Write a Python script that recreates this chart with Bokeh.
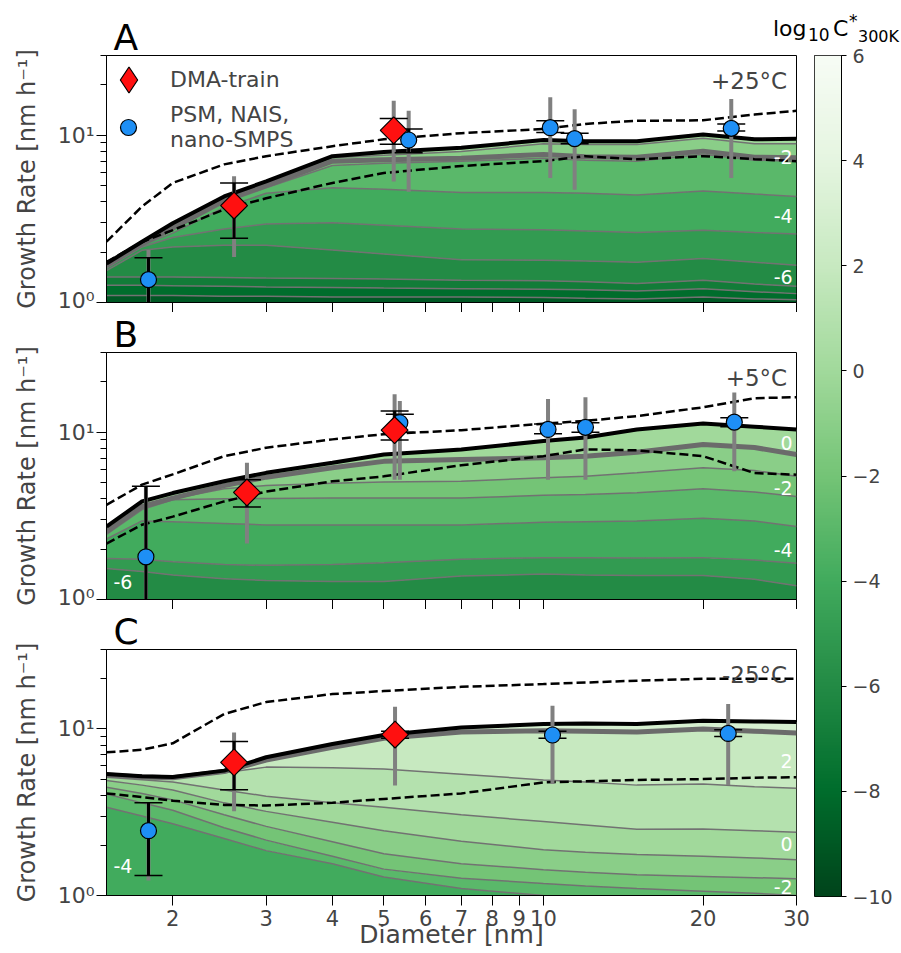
import numpy as np
from bokeh.plotting import figure
from bokeh.layouts import row, column
from bokeh.models import FixedTicker, Label, Legend, LegendItem, LinearColorMapper, Div
from bokeh.embed import file_html
from bokeh.resources import INLINE

FONT = "DejaVu Sans"

# ---------------- data ----------------
diameter = [1.5, 1.75, 2.0, 2.5, 3.0, 4.0, 5.0, 7.0, 10.0, 12.0, 15.0, 20.0, 25.0, 30.0]

# Panel A (+25 C): cumulative growth rate at the top of each volatility bin
A_levels = [-9, -8, -7, -6, -5, -4, -3, -2, -1, 0]
A_top_m9 = [1.10, 1.10, 1.10, 1.09, 1.09, 1.08, 1.08, 1.08, 1.07, 1.06, 1.05, 1.08, 1.05, 1.04]
A_top_m8 = [1.27, 1.27, 1.26, 1.25, 1.24, 1.23, 1.22, 1.21, 1.20, 1.19, 1.17, 1.21, 1.16, 1.13]
A_top_m7 = [1.42, 1.42, 1.42, 1.41, 1.40, 1.39, 1.38, 1.36, 1.35, 1.33, 1.30, 1.36, 1.29, 1.25]
A_top_m6 = [1.55, 2.05, 2.15, 2.20, 2.20, 2.06, 1.95, 1.80, 1.79, 1.77, 1.74, 1.83, 1.74, 1.67]
A_top_m5 = [1.60, 2.15, 2.45, 2.75, 2.95, 3.00, 2.90, 2.75, 2.72, 2.68, 2.62, 2.70, 2.62, 2.57]
A_top_m4 = [1.64, 2.20, 2.60, 3.70, 4.50, 4.86, 4.75, 4.55, 4.55, 4.50, 4.40, 4.65, 4.45, 4.31]
A_top_m3 = [1.66, 2.22, 2.72, 3.95, 4.85, 6.60, 6.80, 7.00, 7.30, 7.10, 7.00, 7.70, 7.10, 7.00]
A_top_m2 = [1.67, 2.24, 2.79, 4.10, 5.00, 7.00, 7.15, 7.30, 7.68, 7.44, 7.40, 8.04, 7.40, 7.34]
A_top_m1 = [1.69, 2.27, 2.90, 4.20, 5.15, 7.35, 7.60, 8.00, 8.90, 8.80, 8.80, 9.60, 8.90, 8.90]
A_top_0 = [1.71, 2.31, 2.98, 4.31, 5.30, 7.50, 7.94, 8.43, 9.37, 9.20, 9.20, 10.1, 9.46, 9.53]
A_upper = [2.31, 3.75, 5.19, 6.70, 7.50, 8.60, 9.46, 10.3, 10.9, 11.7, 12.2, 12.3, 13.3, 14.0]
A_lower = [1.75, 2.30, 2.71, 3.60, 4.20, 5.19, 5.95, 6.55, 7.00, 7.50, 7.18, 7.50, 7.20, 7.00]

A_dma_d = [2.61, 5.22]
A_dma_gr = [3.8, 10.7]
A_dma_lo = [2.42, 8.83]
A_dma_hi = [5.19, 12.6]
A_dma_glo = [1.87, 5.3]
A_dma_ghi = [5.69, 16.1]

A_psm_d = [1.80, 5.57, 10.3, 11.45, 22.6]
A_psm_gr = [1.37, 9.37, 11.1, 9.55, 11.0]
A_psm_lo = [0.5, 7.86, 10.4, 8.9, 10.6]
A_psm_hi = [1.85, 10.9, 12.2, 10.3, 11.7]
A_psm_glo = [0.5, 4.6, 5.56, 4.73, 5.56]
A_psm_ghi = [2.06, 14.0, 16.9, 14.3, 16.5]

# Panel B (+5 C)
B_levels = [-6, -5, -4, -3, -2, -1, 0]
B_top_m6 = [1.53, 1.47, 1.40, 1.33, 1.30, 1.28, 1.28, 1.38, 1.42, 1.40, 1.39, 1.39, 1.32, 1.21]
B_top_m5 = [1.76, 1.74, 1.68, 1.62, 1.60, 1.62, 1.66, 1.74, 1.78, 1.78, 1.77, 1.78, 1.72, 1.65]
B_top_m4 = [2.30, 2.95, 2.92, 2.85, 2.79, 2.79, 2.79, 2.79, 2.90, 2.92, 2.95, 3.06, 2.95, 2.73]
B_top_m3 = [2.45, 3.45, 3.95, 4.00, 4.02, 4.04, 4.04, 4.04, 4.20, 4.25, 4.35, 4.60, 4.40, 4.13]
B_top_m2 = [2.50, 3.55, 4.00, 4.60, 4.80, 4.95, 5.05, 5.09, 5.35, 5.45, 5.72, 6.13, 5.90, 5.45]
B_top_m1 = [2.54, 3.60, 4.04, 4.80, 5.39, 6.13, 6.70, 6.87, 7.05, 7.20, 7.60, 8.44, 8.10, 7.37]
B_top_0 = [2.73, 3.86, 4.33, 5.09, 5.72, 6.57, 7.37, 7.90, 8.87, 9.30, 10.4, 11.3, 10.8, 10.4]
B_upper = [3.68, 4.86, 5.60, 7.20, 8.08, 9.07, 9.73, 10.3, 11.25, 11.7, 12.5, 14.1, 16.0, 16.2]
B_lower = [2.16, 2.80, 3.13, 3.86, 4.42, 5.09, 5.45, 6.35, 7.20, 7.90, 7.80, 7.20, 5.70, 5.58]

B_dma_d = [2.76, 5.24]
B_dma_gr = [4.37, 10.3]
B_dma_lo = [3.57, 9.0]
B_dma_hi = [5.2, 13.4]
B_dma_glo = [2.16, 5.2]
B_dma_ghi = [6.57, 16.9]

B_psm_d = [1.78, 5.36, 10.2, 12.0, 22.9]
B_psm_gr = [1.80, 11.4, 10.4, 10.7, 11.5]
B_psm_lo = [0.5, 10.0, 9.8, 10.0, 10.8]
B_psm_hi = [4.75, 12.8, 11.2, 11.4, 12.2]
B_psm_glo = [0.5, 5.2, 5.2, 5.2, 5.85]
B_psm_ghi = [4.75, 15.4, 15.8, 16.2, 17.3]

# Panel C (-25 C)
C_levels = [-4, -3, -2, -1, 0, 1, 2, 3]
C_top_m4 = [3.39, 3.00, 2.70, 2.20, 1.86, 1.55, 1.29, 1.10, 1.00, 0.97, 0.95, 0.93, 0.90, 0.88]
C_top_m3 = [4.07, 3.60, 3.25, 2.55, 2.15, 1.72, 1.44, 1.27, 1.18, 1.14, 1.10, 1.06, 1.03, 1.00]
C_top_m2 = [4.46, 4.10, 3.75, 3.05, 2.60, 2.10, 1.78, 1.55, 1.43, 1.38, 1.33, 1.30, 1.28, 1.26]
C_top_m1 = [4.90, 4.60, 4.30, 3.60, 3.20, 2.75, 2.45, 2.12, 1.88, 1.82, 1.76, 1.72, 1.68, 1.64]
C_top_0 = [5.13, 4.95, 4.80, 4.30, 3.95, 3.60, 3.39, 3.05, 2.78, 2.65, 2.50, 2.51, 2.45, 2.40]
C_top_1 = [5.25, 5.10, 5.05, 5.45, 5.90, 5.85, 5.75, 5.35, 4.94, 4.80, 4.60, 4.67, 4.50, 4.40]
C_top_2 = [5.30, 5.15, 5.10, 5.55, 6.50, 7.75, 8.80, 9.60, 9.75, 9.70, 9.60, 10.0, 9.70, 9.45]
C_top_3 = [5.37, 5.20, 5.15, 5.62, 6.76, 8.13, 9.20, 10.2, 10.7, 10.8, 10.7, 11.2, 11.1, 11.0]
C_upper = [7.24, 7.50, 8.20, 12.3, 14.5, 16.2, 16.9, 17.9, 18.6, 19.0, 19.5, 20.0, 20.0, 20.0]
C_lower = [4.10, 3.90, 3.71, 3.50, 3.47, 3.60, 3.80, 4.10, 4.78, 4.85, 4.94, 5.00, 5.10, 5.13]

C_dma_d = [2.61, 5.25]
C_dma_gr = [6.3, 9.25]
C_dma_lo = [4.32, 8.8]
C_dma_hi = [8.4, 9.7]
C_dma_glo = [3.2, 4.57]
C_dma_ghi = [9.53, 13.6]

C_psm_d = [1.80, 10.4, 22.3]
C_psm_gr = [2.45, 9.2, 9.4]
C_psm_lo = [1.32, 8.8, 9.0]
C_psm_hi = [3.6, 9.7, 9.9]
C_psm_glo = [1.23, 4.67, 4.6]
C_psm_ghi = [3.6, 13.8, 14.1]

x_ticks = [2, 3, 4, 5, 6, 7, 8, 9, 10, 20, 30]
y_ticks = [1, 10]
y_minor = [2, 3, 4, 5, 6, 7, 8, 9, 20, 30]
cbar_ticks = [-10, -8, -6, -4, -2, 0, 2, 4, 6]

# ---------------- colours ----------------
GREENS = ["#f7fcf5", "#e5f5e0", "#c7e9c0", "#a1d99b", "#74c476",
          "#41ab5d", "#238b45", "#006d2c", "#00441b"]


def greens(t):
    t = min(max(t, 0.0), 1.0) * (len(GREENS) - 1)
    i = min(int(t), len(GREENS) - 2)
    f = t - i
    c0 = [int(GREENS[i][k:k + 2], 16) for k in (1, 3, 5)]
    c1 = [int(GREENS[i + 1][k:k + 2], 16) for k in (1, 3, 5)]
    c = [round(a + (b - a) * f) for a, b in zip(c0, c1)]
    return "#%02x%02x%02x" % tuple(c)


def level_color(v):
    return greens((6 - v) / 16.0)


RED = "#ff1010"
BLUE = "#1e8ff5"


def make_panel(levels, bounds, thick_level, upper, lower, dma, psm, psm_on_top,
               temp, letter, band_labels, top, bottom, height, show_x):
    p = figure(width=810, height=height, x_axis_type="log", y_axis_type="log",
               x_range=(1.5, 30), y_range=(1, 30), toolbar_location=None,
               output_backend="svg", min_border_left=106, min_border_right=14,
               min_border_top=top, min_border_bottom=bottom)
    p.xgrid.visible = False
    p.ygrid.visible = False
    p.outline_line_color = "black"
    p.outline_line_width = 1

    # panel letter as the figure title
    p.title.text = letter
    p.title.text_font = FONT
    p.title.text_font_size = "36px"
    p.title.text_font_style = "normal"
    p.title.text_color = "black"
    p.title.align = "left"
    p.title.offset = 7
    p.title.standoff = -4

    prev = [0.5] * len(diameter)
    for lv, b in zip(levels, bounds):
        p.varea(x=diameter, y1=prev, y2=b, fill_color=level_color(lv), fill_alpha=1.0)
        prev = b
    for lv, b in zip(levels[:-1], bounds[:-1]):
        if lv != thick_level:
            p.line(diameter, b, line_color="#727272", line_width=1.5)
    p.line(diameter, bounds[levels.index(thick_level)], line_color="#6b6b6b", line_width=5)
    p.line(diameter, bounds[-1], line_color="black", line_width=4)
    p.line(diameter, upper, line_color="black", line_width=2.5, line_dash="9 4")
    p.line(diameter, lower, line_color="black", line_width=2.5, line_dash="9 4")

    groups = [dma, psm]
    for g in groups:
        d, gr, lo, hi, glo, ghi = g
        p.segment(x0=d, y0=glo, x1=d, y1=ghi, line_color="#808080", line_width=4)
    for g in groups:
        d, gr, lo, hi, glo, ghi = g
        p.segment(x0=d, y0=lo, x1=d, y1=hi, line_color="black", line_width=3)
        p.scatter(x=d, y=hi, marker="dash", size=28, line_color="black", line_width=1.5)
        p.scatter(x=d, y=lo, marker="dash", size=28, line_color="black", line_width=1.5)

    # narrow diamond under each DMA marker (fully covered); it supplies the legend key
    r_key = p.scatter(x=dma[0], y=dma[1], marker="diamond", size=24, fill_color=RED,
                      line_color="black", line_width=1.2)

    def draw_dma():
        return p.scatter(x=dma[0], y=dma[1], marker="square", angle=np.pi / 4, size=19,
                         fill_color=RED, line_color="black", line_width=1.2)

    def draw_psm():
        return p.scatter(x=psm[0], y=psm[1], marker="circle", size=16,
                         fill_color=BLUE, line_color="black", line_width=1.2)

    if psm_on_top:
        draw_dma()
        r_psm = draw_psm()
    else:
        r_psm = draw_psm()
        draw_dma()

    # axes
    yax = p.yaxis[0]
    yax.ticker = FixedTicker(ticks=y_ticks, minor_ticks=y_minor)
    yax.major_label_overrides = {1: "10\u2070", 10: "10\u00b9"}
    yax.major_label_text_font = FONT
    yax.major_label_text_font_size = "22px"
    yax.major_label_standoff = 2
    yax.major_tick_out = 10
    yax.major_tick_in = 0
    yax.minor_tick_out = 6
    yax.minor_tick_in = 0
    yax.axis_label = "Growth Rate [nm h\u207b\u00b9]"
    yax.axis_label_text_font = FONT
    yax.axis_label_text_font_size = "24px"
    yax.axis_label_text_font_style = "normal"
    yax.axis_label_standoff = 14
    yax.axis_line_color = "black"

    xax = p.xaxis[0]
    xax.axis_line_color = "black"
    if show_x:
        xax.ticker = FixedTicker(ticks=x_ticks, minor_ticks=[])
        xax.major_tick_out = 10
        xax.major_tick_in = 0
        xax.major_label_overrides = {t: str(t) for t in x_ticks}
        xax.major_label_text_font = FONT
        xax.major_label_text_font_size = "21px"
        xax.major_label_standoff = 4
        xax.axis_label = "Diameter [nm]"
        xax.axis_label_text_font = FONT
        xax.axis_label_text_font_size = "25px"
        xax.axis_label_text_font_style = "normal"
        xax.axis_label_standoff = -9
    else:
        # same tick positions, drawn without labels
        xax.ticker = FixedTicker(ticks=[], minor_ticks=x_ticks)
        xax.minor_tick_out = 10
        xax.minor_tick_in = 0
        xax.major_label_standoff = 0

    p.add_layout(Label(x=28.8, y=21.1, text=temp, text_align="right",
                       text_baseline="alphabetic", text_font=FONT, text_font_size="23px"))
    for txt, lx, ly, al in band_labels:
        p.add_layout(Label(x=lx, y=ly, text=txt, text_align=al, text_baseline="middle",
                           text_font=FONT, text_font_size="19px", text_color="white"))
    return p, r_key, r_psm


A_bounds = [A_top_m9, A_top_m8, A_top_m7, A_top_m6, A_top_m5, A_top_m4,
            A_top_m3, A_top_m2, A_top_m1, A_top_0]
B_bounds = [B_top_m6, B_top_m5, B_top_m4, B_top_m3, B_top_m2, B_top_m1, B_top_0]
C_bounds = [C_top_m4, C_top_m3, C_top_m2, C_top_m1, C_top_0, C_top_1, C_top_2, C_top_3]

A_band_labels = [("-2", 29.5, 7.37, "right"), ("-4", 29.5, 3.27, "right"), ("-6", 29.5, 1.42, "right")]
B_band_labels = [("0", 29.5, 8.66, "right"), ("-2", 29.5, 4.64, "right"), ("-4", 29.5, 1.97, "right"),
                 ("-6", 1.546, 1.27, "left")]
C_band_labels = [("2", 29.5, 6.45, "right"), ("0", 29.5, 2.04, "right"), ("-2", 29.5, 1.12, "right"),
                 ("-4", 1.546, 1.51, "left")]

pA, rA_key, rA_psm = make_panel(
    A_levels, A_bounds, -2, A_upper, A_lower,
    (A_dma_d, A_dma_gr, A_dma_lo, A_dma_hi, A_dma_glo, A_dma_ghi),
    (A_psm_d, A_psm_gr, A_psm_lo, A_psm_hi, A_psm_glo, A_psm_ghi), True,
    "+25\u00b0C", "A", A_band_labels, 55, 10, 312, False)
pB, _, _ = make_panel(
    B_levels, B_bounds, -1, B_upper, B_lower,
    (B_dma_d, B_dma_gr, B_dma_lo, B_dma_hi, B_dma_glo, B_dma_ghi),
    (B_psm_d, B_psm_gr, B_psm_lo, B_psm_hi, B_psm_glo, B_psm_ghi), False,
    "+5\u00b0C", "B", B_band_labels, 40, 10, 297, False)
pC, _, _ = make_panel(
    C_levels, C_bounds, 2, C_upper, C_lower,
    (C_dma_d, C_dma_gr, C_dma_lo, C_dma_hi, C_dma_glo, C_dma_ghi),
    (C_psm_d, C_psm_gr, C_psm_lo, C_psm_hi, C_psm_glo, C_psm_ghi), True,
    "-25\u00b0C", "C", C_band_labels, 40, 58, 344, True)

leg1 = Legend(items=[LegendItem(label="DMA-train", renderers=[rA_key])],
              location=(-10, 190), margin=0, padding=0, spacing=0,
              glyph_width=65, glyph_height=65, label_standoff=9,
              border_line_color=None, background_fill_alpha=0,
              label_text_font=FONT, label_text_font_size="22px")
leg2 = Legend(items=[LegendItem(label="PSM, NAIS,\nnano-SMPS", renderers=[rA_psm])],
              location=(2, 150), margin=0, padding=0, spacing=0,
              glyph_width=40, glyph_height=40, label_standoff=22,
              border_line_color=None, background_fill_alpha=0,
              label_text_font=FONT, label_text_font_size="22px")
pA.add_layout(leg1)
pA.add_layout(leg2)

# ---------------- colour bar ----------------
cbar_palette = [greens(1 - i / 255.0) for i in range(256)]
cb = figure(width=136, height=908, x_range=(0, 1), y_range=(-10, 6), toolbar_location=None,
            output_backend="svg", x_axis_location=None, y_axis_location="right",
            min_border_left=49, min_border_right=60, min_border_top=10, min_border_bottom=57,
            background_fill_color=None, border_fill_color=None, outline_line_color="black")
cb.margin = 0
cb.xgrid.visible = False
cb.ygrid.visible = False
mapper = LinearColorMapper(palette=cbar_palette, low=-10, high=6)
cb.image(image=[np.linspace(-10, 6, 256).reshape(256, 1)], x=0, y=-10, dw=1, dh=16,
         color_mapper=mapper)
cax = cb.yaxis[0]
cax.ticker = FixedTicker(ticks=cbar_ticks, minor_ticks=[])
cax.major_tick_out = 5
cax.major_tick_in = 0
cax.major_label_standoff = 6
cax.major_label_text_font = FONT
cax.major_label_text_font_size = "19px"
cax.axis_line_color = "black"

S = "position:absolute;white-space:nowrap;color:black;margin:0;padding:0;line-height:1;"
cbar_title = Div(
    width=136, height=45, margin=0,
    text=(f"<div style=\"position:relative;width:136px;height:45px;font-family:'{FONT}';\">"
          f"<span style='{S}left:8px;top:18px;font-size:22px;'>log</span>"
          f"<span style='{S}left:43px;top:27px;font-size:17px;'>10</span>"
          f"<span style='{S}left:68px;top:18px;font-size:22px;'>C</span>"
          f"<span style='{S}left:84px;top:13px;font-size:17px;'>*</span>"
          f"<span style='{S}left:93px;top:29px;font-size:16px;'>300K</span>"
          "</div>"))

right_col = column(cbar_title, cb)
right_col.margin = (0, 0, 0, -45)

layout = row(column(pA, pB, pC), right_col)
open("out.html", "w").write(file_html(layout, INLINE))
